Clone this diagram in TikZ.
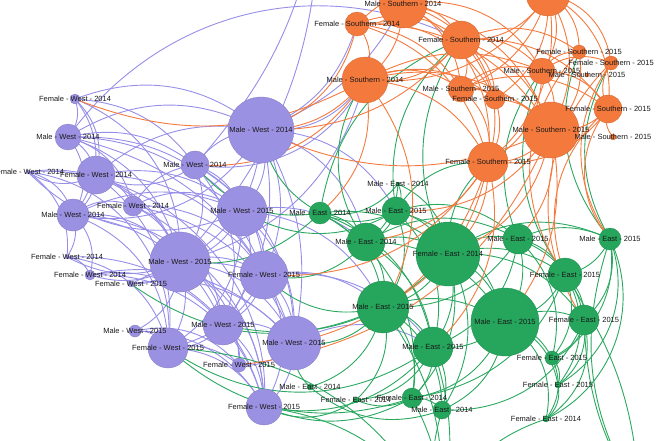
\documentclass[tikz,border=0pt]{standalone}
\usepackage{fontspec}
\setmainfont{Liberation Sans}
\usetikzlibrary{backgrounds}
\definecolor{westfill}{RGB}{155,145,226}
\definecolor{southfill}{RGB}{244,121,60}
\definecolor{eastfill}{RGB}{37,166,92}
\definecolor{westline}{RGB}{150,142,232}
\definecolor{southline}{RGB}{244,122,62}
\definecolor{eastline}{RGB}{42,168,96}
\begin{document}
\begin{tikzpicture}[x=1pt,y=-1pt,
    west/.style={circle, fill=westfill, draw=westfill!85!black, line width=0.3pt, inner sep=0pt},
    south/.style={circle, fill=southfill, draw=southfill!85!black, line width=0.3pt, inner sep=0pt},
    east/.style={circle, fill=eastfill, draw=eastfill!85!black, line width=0.3pt, inner sep=0pt},
    lbl/.style={font=\fontsize{7.5}{8}\selectfont, text=black!90, inner sep=0pt},
    wline/.style={draw=westline, line width=0.9pt},
    sline/.style={draw=southline, line width=0.9pt},
    eline/.style={draw=eastline, line width=0.9pt}]
    \useasboundingbox (0,0) rectangle (660,440);
    \clip (0,0) rectangle (660,440);

    % West nodes
    \foreach \n/\x/\y/\r in {w1/75/99/5, w2/68/137/13, w3/96/175/19, w4/28/172/2,
        w5/73/215/16, w6/133/206/10, w7/195/165/14, w8/261/130/33, w9/242/211/25,
        w10/180/262/30, w11/264/275/24, w12/67/257/2, w13/90/275/5, w14/131/284/3,
        w15/223/325/20, w16/135/331/6, w17/168/348/20, w18/294/343/27, w19/239/365/7,
        w20/264/407/18}
        \node[west, minimum size=\r*2pt] (\n) at (\x,\y) {};

    % Southern nodes
    \foreach \n/\x/\y/\r in {s1/403/4/24, s2/357/24/12, s3/548/-6/22, s4/461/40/19,
        s5/365/80/23, s6/461/89/13, s7/495/99/10, s8/579/52/7, s9/611/63/7,
        s10/542/71/13, s11/587/75/2, s12/608/109/14, s13/551/130/28, s14/613/137/3,
        s15/488/162/20}
        \node[south, minimum size=\r*2pt] (\n) at (\x,\y) {};

    % East nodes
    \foreach \n/\x/\y/\r in {e1/398/184/2, e2/396/211/14, e3/320/213/11, e4/366/242/19,
        e5/448/254/32, e6/518/239/15, e7/610/239/11, e8/565/275/17, e9/383/307/26,
        e10/505/322/34, e11/584/320/15, e12/433/347/20, e13/552/358/7, e14/558/385/3,
        e15/546/419/3, e16/412/398/10, e17/442/410/9, e18/356/400/3, e19/310/387/3}
        \node[east, minimum size=\r*2pt] (\n) at (\x,\y) {};

    % links leaving the frame
    \coordinate (top) at (320,-90);
    \coordinate (bot) at (440,520);
    \coordinate (botr) at (640,500);

    \begin{pgfonlayer}{background}
        \clip (0,0) rectangle (660,440);
        % West links
        \foreach \a/\b/\c in {w1/w2/30, w1/w3/30, w1/w5/40, w1/w8/30, w1/w10/35,
            w1/w7/25, w2/w3/25, w2/w5/35, w2/w8/30, w2/w7/25, w2/w10/30, w2/w6/30,
            w2/w9/25, w2/w18/30, w3/w4/30, w3/w5/25, w3/w6/25, w3/w7/-30, w3/w8/25,
            w3/w9/25, w3/w10/25, w3/w11/30, w3/w17/30, w2/s4/40, w4/w5/30, w4/w10/40,
            w4/w12/30, w4/w9/-35, w4/w20/50, w4/w17/45, w5/w6/30, w5/w10/30, w5/w9/25,
            w5/w12/25, w5/w13/30, w5/w17/35, w5/w15/30, w5/w8/-35, w5/w20/45, w6/w7/25,
            w6/w9/30, w6/w10/25, w6/w11/30, w6/w15/30, w7/w8/25, w7/w9/25, w7/w10/30,
            w7/w11/30, w7/s5/-35, w7/w18/30, w8/w9/30, w8/w10/30, w8/w11/25, w8/w15/25,
            w8/w18/20, w8/s5/-30, w8/s2/-25, w8/s1/-20, w8/e2/30, w8/e4/30, w9/w10/25,
            w9/w11/25, w9/w15/30, w9/w18/25, w9/w17/30, w9/e4/25, w9/e9/30, w10/w11/25,
            w10/w12/25, w10/w13/25, w10/w14/25, w10/w15/25, w10/w16/30, w10/w17/25,
            w10/w18/30, w10/w19/30, w10/w20/30, w10/s5/-30, w11/w15/25,
            w11/w17/25, w11/w18/25, w11/w20/30, w11/e9/25, w11/e12/30, w12/w13/30,
            w12/w17/35, w12/w20/40, w13/w15/30, w13/w18/30, w14/w18/30, w14/w11/25,
            w15/w17/25, w15/w18/25, w15/w19/30, w15/w20/25, w16/w17/30, w16/w20/30,
            w17/w19/25, w17/w20/30, w18/w19/25, w18/w20/25, w18/e12/30,
            w7/top/-15, w10/top/-20, w6/w18/30, w7/w15/30,
            w13/w20/40, w16/w19/30, w2/w11/35}
            \draw[wline] (\a.center) to[bend left=\c] (\b.center);

        % East links
        \foreach \a/\b/\c in {e1/e2/30, e1/e5/30, e1/e4/25, e1/e3/30, e2/e3/25, e2/e4/25,
            e2/e5/25, e2/e6/30, e2/e9/30, e2/e10/30, e2/e12/30, e2/s4/30, e2/s15/30,
            e2/w9/30, e3/e4/25, e3/e9/30, e3/e5/25, e3/w7/30, e3/w8/25, e3/w10/25,
            e3/e12/30, e3/e16/35, e4/e5/25, e4/e9/25, e4/e10/30, e4/e12/25, e4/w11/30,
            e4/e6/30, e4/s5/35, e5/e6/25, e5/e7/30, e5/e8/25, e5/e9/25, e5/e10/25,
            e5/e11/30, e5/e12/25, e5/e16/30, e5/e17/30, e5/s15/25, e5/s4/30, e5/w15/30,
            e6/e7/25, e6/e8/25, e6/e10/25, e6/e11/30, e6/e13/30, e6/s10/30, e7/e8/25,
            e7/e11/30, e7/e13/35, e7/e14/40, e7/e15/45, e7/s9/30, e7/s8/30, e8/e10/25,
            e8/e11/25, e8/e13/30, e8/e14/35, e8/s10/30, e9/e10/25, e9/e12/25, e9/e16/30,
            e9/e17/30, e9/e18/30, e9/w18/30, e9/w11/30, e9/w14/30, e9/e19/30, e10/e11/25,
            e10/e12/25, e10/e13/25, e10/e14/30, e10/e15/35, e10/e16/30, e10/e17/30,
            e11/e13/30, e11/e14/30, e11/e15/35, e12/e16/25, e12/e17/25, e12/e18/30,
            e12/w20/30, e12/w17/35, e13/e14/30, e13/e15/30, e14/e15/30, e16/e17/25,
            e16/e18/25, e16/w20/25, e17/e19/30, e16/w17/30, e19/w18/25, e18/w20/30,
            e16/bot/15, e17/bot/-15, e9/bot/20, e12/bot/15, e15/bot/-25, e7/botr/-25,
            e11/botr/-15, e8/botr/15, w20/bot/25, w17/bot/30, e6/e12/30, e3/s4/30,
            e8/e16/30, e11/e17/35, e6/e9/30}
            \draw[eline] (\a.center) to[bend left=\c] (\b.center);

        % Southern links
        \foreach \a/\b/\c in {s1/s2/30, s1/s4/30, s1/s5/25, s1/s6/30, s1/s3/30, s1/s10/35,
            s1/s13/30, s1/s15/35, s1/s7/30, s2/s4/30, s2/s5/30, s2/s6/25, s2/s15/30,
            s2/s13/30, s2/s3/35, s3/s4/30, s3/s8/30, s3/s9/35, s3/s10/30, s3/s12/35,
            s3/s13/30, s3/s5/30, s3/s6/25, s3/s15/30, s4/s5/30, s4/s6/25, s4/s7/30,
            s4/s10/30, s4/s13/25, s4/s12/30, s4/s15/30, s4/s8/30, s5/s6/30, s5/s7/30,
            s5/s13/30, s5/s15/30, s5/s10/25, s5/w1/25, s5/w7/30, s5/w8/25, s5/e3/30,
            s5/e9/35, s6/s7/30, s6/s13/25, s6/s15/30, s6/s12/30, s7/s13/25, s7/s15/25,
            s10/s13/25, s10/s12/30, s10/s8/30, s10/s9/30, s10/s15/30, s12/s13/25,
            s12/s9/30, s12/s15/30, s12/e7/-40, s12/e8/-35, s13/s15/30, s13/e5/30,
            s13/e10/25, s13/e2/30, s13/w8/25, s13/e6/25, s15/e5/25, s15/e9/25,
            s15/e12/30, s15/w11/30, s15/w18/30, s15/e4/25, s9/e7/-35, s9/e11/-40,
            s8/e8/-40, s4/w8/25, s2/w8/30, s13/w19/30, s3/s7/30, s8/s13/30,
            s2/s7/35, s6/s10/30, s14/s12/30}
            \draw[sline] (\a.center) to[bend left=\c] (\b.center);
    \end{pgfonlayer}

    % Labels
    \foreach \n/\t in {w1/Female - West - 2014, w2/Male - West - 2014, w3/Female - West - 2014,
        w4/Female - West - 2014, w5/Male - West - 2014, w6/Female - West - 2014,
        w7/Male - West - 2014, w8/Male - West - 2014, w9/Male - West - 2015,
        w10/Male - West - 2015, w11/Female - West - 2015, w12/Female - West - 2014,
        w13/Female - West - 2014, w14/Female - West - 2015, w15/Male - West - 2015,
        w16/Male - West - 2015, w17/Female - West - 2015, w18/Male - West - 2015,
        w19/Female - West - 2015, w20/Female - West - 2015,
        s1/Male - Southern - 2014, s2/Female - Southern - 2014, s4/Female - Southern - 2014,
        s5/Male - Southern - 2014, s6/Male - Southern - 2015, s7/Female - Southern - 2015,
        s8/Female - Southern - 2015, s9/Female - Southern - 2015, s10/Male - Southern - 2015,
        s11/Male - Southern - 2015, s12/Female - Southern - 2015, s13/Male - Southern - 2015,
        s14/Male - Southern - 2015, s15/Female - Southern - 2015,
        e1/Male - East - 2014, e2/Male - East - 2015, e3/Male - East - 2014,
        e4/Male - East - 2014, e5/Female - East - 2014, e6/Male - East - 2015,
        e7/Male - East - 2015, e8/Female - East - 2015, e9/Male - East - 2015,
        e10/Male - East - 2015, e11/Female - East - 2015, e12/Male - East - 2015,
        e13/Female - East - 2015, e14/Female - East - 2015, e15/Female - East - 2014,
        e16/Female - East - 2014, e17/Male - East - 2014, e18/Female - East - 2014,
        e19/Male - East - 2014}
        \node[lbl] (\n-t) at (\n.center) {\t};
\end{tikzpicture}
\end{document}
